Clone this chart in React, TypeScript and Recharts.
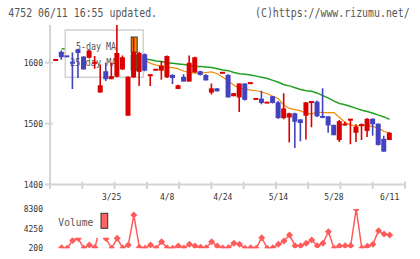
import React from "react";
import { ComposedChart, Line, Bar, XAxis, YAxis } from "recharts";

// daily candles, oldest first (index 0 .. 60)
const opens = [
  1604, 1618, 1611, 1601, 1622, 1610, 1608, 1599, 1551, 1586, 1573, 1577, 1589, 1513, 1576, 1585,
  1614, 1579, 1588, 1587, 1576, 1580, 1557, 1577, 1569, 1584, 1586, 1580, 1551, 1558, 1583, 1580,
  1545, 1543, 1566, 1566, 1540, 1541, 1534, 1545, 1535, 1509, 1510, 1517, 1507, 1513, 1534, 1536,
  1512, 1512, 1498, 1473, 1498, 1506, 1485, 1497, 1488, 1508, 1500, 1475, 1473,
];
const highs = [
  1605, 1620, 1611, 1617, 1623, 1611, 1621, 1611, 1597, 1600, 1600, 1662, 1612, 1578, 1641, 1618,
  1615, 1581, 1589, 1603, 1612, 1581, 1564, 1581, 1612, 1610, 1587, 1581, 1566, 1558, 1584, 1581,
  1550, 1566, 1566, 1567, 1541, 1554, 1535, 1545, 1537, 1550, 1518, 1518, 1507, 1535, 1537, 1538,
  1558, 1512, 1498, 1506, 1503, 1507, 1499, 1500, 1509, 1509, 1500, 1480, 1486,
];
const lows = [
  1604, 1605, 1610, 1557, 1575, 1589, 1608, 1590, 1551, 1570, 1573, 1576, 1588, 1513, 1575, 1562,
  1586, 1562, 1588, 1572, 1575, 1565, 1557, 1569, 1569, 1584, 1579, 1571, 1548, 1553, 1583, 1543,
  1545, 1519, 1538, 1566, 1540, 1532, 1534, 1533, 1508, 1507, 1469, 1460, 1471, 1474, 1494, 1511,
  1509, 1485, 1481, 1470, 1497, 1466, 1470, 1473, 1478, 1480, 1464, 1454, 1473,
];
const closes = [
  1605, 1609, 1610, 1599, 1616, 1589, 1620, 1601, 1563, 1573, 1578, 1616, 1609, 1577, 1618, 1616,
  1587, 1580, 1589, 1595, 1611, 1575, 1563, 1569, 1600, 1609, 1580, 1571, 1558, 1553, 1584, 1543,
  1550, 1566, 1539, 1567, 1541, 1534, 1535, 1534, 1509, 1525, 1517, 1503, 1501, 1535, 1537, 1512,
  1510, 1497, 1481, 1504, 1499, 1507, 1495, 1498, 1508, 1499, 1465, 1454, 1485,
];
// moving averages (null where the legend box hides the line)
const ma5 = [
  null, 1617, 1615, null, null, null, null, null, null, null, null, null, null, null, null, null,
  1604, 1599, 1596, 1595, 1593, 1592, 1590, 1586, 1584, 1583, 1583, 1584, 1585, 1582, 1576, 1570,
  1563, 1558, 1557, 1555, 1554, 1552, 1549, 1545, 1541, 1530, 1525, 1523, 1521, 1517, 1516, 1519,
  1518, 1518, 1518, 1510, 1502, 1498, 1496, 1497, 1497, 1495, 1493, 1487, 1485,
];
const ma25 = [
  null, 1623, 1622, null, null, null, null, null, null, null, null, null, null, null, null, null,
  1606, 1605, 1603, 1602, 1600, 1599, 1598, 1597, 1596, 1594, 1594, 1593, 1592, 1590, 1588, 1587,
  1584, 1582, 1581, 1580, 1578, 1576, 1574, 1571, 1568, 1564, 1562, 1559, 1556, 1554, 1553, 1550,
  1546, 1542, 1537, 1533, 1531, 1528, 1525, 1522, 1520, 1517, 1514, 1511, 1507,
];
const volume = [
  null, 320, 200, 1800, 2200, 200, 880, 350, 5000, 2200, 200, 2250, 250, 880, 7060, 400,
  200, 880, 200, 1560, 250, 200, 650, 250, 1020, 650, 400, 320, 1560, 650, 250, 320,
  1220, 1020, 200, 320, 200, 2390, 200, 320, 1020, 1700, 2930, 740, 740, 1220, 1900, 740,
  1220, 3620, 200, 670, 740, 740, 8300, 250, 600, 1020, 3830, 3140, 2930,
];
const dateLabels: Record<number, string> = {
  10: "3/25",
  20: "4/8",
  30: "4/24",
  40: "5/14",
  50: "5/28",
  60: "6/11",
};
const priceTicks = [1400, 1500, 1600];
const volumeTicks = [200, 4250, 8300];

const W = 420;
const H = 259;
const RED = "#d90000";
const BLUE = "#4343c0";
const GREEN = "#22a022";
const ORANGE = "#f28a00";
const VOL = "#ff5b5b";
const AXIS = "#d4d4d4";
const MONO = "'DejaVu Sans Mono', monospace";

// plot rect: x 50..405, price y 25..184.5, volume y 209..248.3
const X_DOMAIN: [number, number] = [-1.08, 62.77];
const PLOT_W = 355;
const unit = PLOT_W / (X_DOMAIN[1] - X_DOMAIN[0]);
const padL = (0 - X_DOMAIN[0]) * unit - unit / 2;
const padR = (X_DOMAIN[1] - (opens.length - 1)) * unit - unit / 2;

// axis tick marks split the x axis into 11 equal parts
const gridTicks = Array.from(
  { length: 12 },
  (_, k) => X_DOMAIN[0] + (k * (X_DOMAIN[1] - X_DOMAIN[0])) / 11
);
const dateTickIdx = Object.keys(dateLabels).map(Number);
const xTicks = [...gridTicks, ...dateTickIdx];

const rows = opens.map((o, i) => ({
  i,
  open: o,
  high: highs[i],
  low: lows[i],
  close: closes[i],
  ma5: ma5[i],
  ma25: ma25[i],
  vol: volume[i],
}));

function Candle(props: any) {
  const { x, y, width, height, payload } = props;
  if (!payload || height == null || isNaN(height)) return <g />;
  const { open, close, high, low } = payload;
  const k = height / (high - low);
  const py = (v: number) => y + (high - v) * k;
  const color = close >= open ? RED : BLUE;
  let top = py(Math.max(open, close));
  let bot = py(Math.min(open, close));
  if (bot - top < 2) {
    const m = (top + bot) / 2;
    top = m - 1;
    bot = m + 1;
  }
  const cx = x + width / 2;
  return (
    <g>
      <line x1={cx} x2={cx} y1={y} y2={y + height} stroke={color} strokeWidth={1.6} />
      <rect x={x} y={top} width={width} height={bot - top} fill={color} />
    </g>
  );
}

function Diamond(props: any) {
  const { cx, cy, value } = props;
  if (cx == null || cy == null || value == null) return <g />;
  const r = 3.5;
  return (
    <polygon
      points={`${cx},${cy - r} ${cx + r},${cy} ${cx},${cy + r} ${cx - r},${cy}`}
      fill={VOL}
    />
  );
}

// x axis: tick marks crossing the axis line, date labels below
function XTick(props: any) {
  const { x, y, payload } = props;
  const label = dateLabels[payload.value];
  if (label) {
    return (
      <text x={x} y={y + 15.5} textAnchor="middle" fontSize={8} fontFamily={MONO} fill="#333">
        {label}
      </text>
    );
  }
  return <line x1={x} x2={x} y1={y - 3} y2={y + 4.5} stroke={AXIS} strokeWidth={2} />;
}

function PriceTick(props: any) {
  const { x, y, payload } = props;
  return (
    <g>
      <line x1={x - 5} x2={x + 3} y1={y} y2={y} stroke={AXIS} strokeWidth={2} />
      <text x={x - 7} y={y + 3} textAnchor="end" fontSize={8} fontFamily={MONO} fill="#333">
        {payload.value}
      </text>
    </g>
  );
}

function VolumeTick(props: any) {
  const { x, y, payload } = props;
  return (
    <text x={x - 7} y={y + 3} textAnchor="end" fontSize={8} fontFamily={MONO} fill="#333">
      {payload.value}
    </text>
  );
}

// header text: narrow monospace stretched vertically
function Header({ x, text }: { x: number; text: string }) {
  return (
    <text
      transform={`translate(${x},16.6) scale(1,1.25)`}
      x={0}
      y={0}
      fontSize={9.9}
      fontFamily={MONO}
      fill="#555"
    >
      {text}
    </text>
  );
}

const layer: React.CSSProperties = { position: "absolute", left: 0, top: 0 };

export default function App() {
  return (
    <div style={{ position: "absolute", left: 0, top: 0, width: W, height: H, background: "#fff" }}>
      {/* moving averages + x axis */}
      <div style={layer}>
        <ComposedChart width={W} height={H} data={rows} margin={{ top: 25, right: 15, bottom: 73.5, left: 50 }}>
          <XAxis
            dataKey="i"
            type="number"
            domain={X_DOMAIN}
            allowDataOverflow
            ticks={xTicks}
            height={1}
            axisLine={{ stroke: AXIS, strokeWidth: 2 }}
            tickLine={false}
            tickSize={0}
            tickMargin={0}
            interval={0}
            tick={(p: any) => <XTick {...p} />}
          />
          <YAxis hide width={0} domain={[1400, 1662]} allowDataOverflow />
          <Line dataKey="ma25" stroke={GREEN} strokeWidth={1.5} dot={false} isAnimationActive={false} />
          <Line dataKey="ma5" stroke={ORANGE} strokeWidth={1.2} dot={false} isAnimationActive={false} />
        </ComposedChart>
      </div>

      {/* volume */}
      <div style={layer}>
        <ComposedChart width={W} height={H} data={rows} margin={{ top: 209, right: 15, bottom: 10.7, left: 10 }}>
          <XAxis dataKey="i" type="number" domain={X_DOMAIN} allowDataOverflow hide height={0} />
          <YAxis
            width={40}
            domain={[200, 8300]}
            allowDataOverflow
            ticks={volumeTicks}
            interval={0}
            axisLine={false}
            tickLine={false}
            tickSize={0}
            tickMargin={0}
            tick={(p: any) => <VolumeTick {...p} />}
          />
          <Line
            dataKey="vol"
            stroke={VOL}
            strokeWidth={1.5}
            dot={(p: any) => <Diamond key={p.index} {...p} />}
            activeDot={false}
            isAnimationActive={false}
          />
        </ComposedChart>
      </div>

      {/* header and legends */}
      <svg width={W} height={H} style={layer}>
        <Header x={8.3} text="4752 06/11 16:55 updated." />
        <Header x={255} text="(C)https://www.rizumu.net/" />

        <rect x={65.3} y={30} width={78} height={47.3} fill="#fff" stroke="#d0d0d0" strokeWidth={1.5} />
        <text x={76} y={49.6} textLength={40} lengthAdjust="spacingAndGlyphs" fontSize={10.5} fontFamily={MONO} fill="#555">
          5-day MA
        </text>
        <rect x={131.2} y={37} width={6} height={15.3} fill={ORANGE} stroke="#333" strokeWidth={1} />
        <text x={70} y={66} textLength={46.7} lengthAdjust="spacingAndGlyphs" fontSize={10.5} fontFamily={MONO} fill="#555">
          25-day MA
        </text>
        <rect x={131.2} y={55} width={6} height={15} fill={GREEN} stroke="#333" strokeWidth={1} />

        <rect x={50} y={205} width={62} height={32.7} fill="#fff" />
        <text x={58.3} y={225.7} textLength={35} lengthAdjust="spacingAndGlyphs" fontSize={10.5} fontFamily={MONO} fill="#555">
          Volume
        </text>
        <rect x={101} y={213.3} width={6.7} height={15} fill="#ff6464" stroke="#333" strokeWidth={1} />
      </svg>

      {/* candles + price axis */}
      <div style={layer}>
        <ComposedChart width={W} height={H} data={rows} margin={{ top: 25, right: 15, bottom: 74.5, left: 10 }}>
          <XAxis
            xAxisId="cat"
            dataKey="i"
            type="category"
            scale="band"
            hide
            height={0}
            padding={{ left: padL, right: padR }}
          />
          <YAxis
            width={40}
            domain={[1400, 1662]}
            allowDataOverflow
            ticks={priceTicks}
            interval={0}
            axisLine={{ stroke: AXIS, strokeWidth: 2 }}
            tickLine={false}
            tickSize={0}
            tickMargin={0}
            tick={(p: any) => <PriceTick {...p} />}
          />
          <Bar
            xAxisId="cat"
            dataKey={(d: any) => [d.low, d.high]}
            barSize={5}
            shape={(p: any) => <Candle {...p} />}
            isAnimationActive={false}
          />
        </ComposedChart>
      </div>
    </div>
  );
}
